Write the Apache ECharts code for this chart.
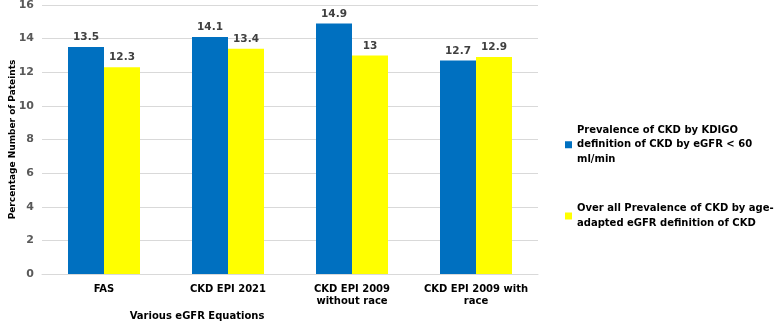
<!DOCTYPE html>
<html lang="en">
<head>
    <meta charset="UTF-8">
    <title>CKD prevalence by eGFR equation</title>
    <script src="https://cdn.jsdelivr.net/npm/echarts@6/dist/echarts.min.js"></script>
</head>
<body style="margin:0;background:#fff;">
    <div id="main" style="width: 777px;height:321px;"></div>
    <script type="text/javascript">
        // data
        var categories = ['FAS', 'CKD EPI 2021', 'CKD EPI 2009\nwithout race', 'CKD EPI 2009 with\nrace'];
        var kdigo = [13.5, 14.1, 14.9, 12.7];
        var ageAdapted = [12.3, 13.4, 13, 12.9];
        var seriesNames = [
            'Prevalence of CKD by KDIGO\ndefinition of CKD by eGFR < 60\nml/min',
            'Over all Prevalence of CKD by age-\nadapted eGFR definition of CKD'
        ];

        var font = 'DejaVu Sans';
        var myChart = echarts.init(document.getElementById('main'));

        var barLabel = {
            show: true,
            position: 'top',
            distance: 4,
            color: '#404040',
            fontFamily: font,
            fontWeight: 'bold',
            fontSize: 10.5
        };

        var option = {
            animation: false,
            backgroundColor: '#fff',
            grid: { left: 42, right: 239, top: 5, bottom: 47, outerBoundsMode: 'none', containLabel: false },
            legend: {
                orient: 'vertical',
                left: 565,
                top: 123,
                padding: 0,
                itemWidth: 7,
                itemHeight: 7,
                itemGap: 35,
                icon: 'rect',
                textStyle: {
                    fontFamily: font,
                    fontWeight: 'bold',
                    fontSize: 10,
                    color: '#000',
                    lineHeight: 14.5
                },
                data: seriesNames
            },
            xAxis: {
                type: 'category',
                data: categories,
                name: 'Various eGFR Equations',
                nameLocation: 'middle',
                nameGap: 34,
                nameTextStyle: {
                    fontFamily: font, fontWeight: 'bold', fontSize: 10, color: '#000',
                    padding: [0, 186, 0, 0]
                },
                axisLine: { lineStyle: { color: '#d9d9d9', width: 1 } },
                axisTick: { show: false },
                axisLabel: {
                    fontFamily: font, fontWeight: 'bold', fontSize: 10, color: '#000',
                    margin: 9, lineHeight: 12, interval: 0
                }
            },
            yAxis: {
                type: 'value',
                min: 0,
                max: 16,
                interval: 2,
                name: 'Percentage Number of Pateints',
                nameLocation: 'middle',
                nameGap: 25,
                nameMoveOverlap: false,
                nameTextStyle: { fontFamily: font, fontWeight: 'bold', fontSize: 9, color: '#000' },
                axisLine: { show: false },
                axisTick: { show: false },
                splitLine: { lineStyle: { color: '#d9d9d9', width: 1 } },
                axisLabel: {
                    fontFamily: font, fontWeight: 'bold', fontSize: 11, color: '#595959', margin: 8
                }
            },
            series: [
                {
                    name: seriesNames[0],
                    type: 'bar',
                    data: kdigo,
                    barWidth: 36,
                    barGap: '0%',
                    itemStyle: { color: '#0070C0' },
                    label: barLabel
                },
                {
                    name: seriesNames[1],
                    type: 'bar',
                    data: ageAdapted,
                    barWidth: 36,
                    itemStyle: { color: '#FFFF00' },
                    label: barLabel
                }
            ]
        };

        myChart.setOption(option);
    </script>
</body>
</html>
